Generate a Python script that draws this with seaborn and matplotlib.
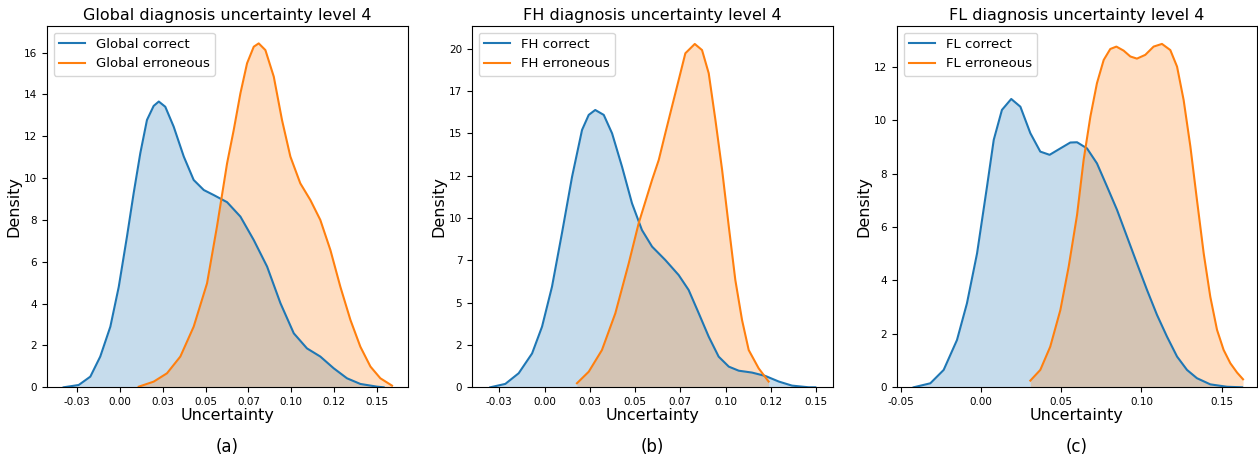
import numpy as np
import pandas as pd
import matplotlib
matplotlib.use("Agg")
import matplotlib.pyplot as plt
from matplotlib.ticker import FormatStrFormatter, MultipleLocator
import seaborn as sns

# Density curves of the uncertainty estimates (level 4), per diagnosis group
global_correct_x = [-0.0330, -0.0242, -0.0174, -0.0116, -0.0057, -0.0008, 0.0040, 0.0079,
                    0.0118, 0.0157, 0.0196, 0.0226, 0.0264, 0.0313, 0.0372, 0.0430,
                    0.0489, 0.0547, 0.0625, 0.0703, 0.0781, 0.0859, 0.0937, 0.1015,
                    0.1092, 0.1170, 0.1248, 0.1326, 0.1404, 0.1502, 0.1540]
global_correct_y = [0.0, 0.11, 0.51, 1.47, 2.9, 4.8, 7.2, 9.27,
                    11.19, 12.78, 13.45, 13.66, 13.41, 12.46, 11.03, 9.91,
                    9.43, 9.19, 8.85, 8.16, 7.04, 5.77, 4.02, 2.58,
                    1.86, 1.47, 0.91, 0.43, 0.16, 0.03, 0.0]
global_err_x = [0.0109, 0.0196, 0.0274, 0.0352, 0.0430, 0.0508, 0.0566, 0.0625,
                0.0664, 0.0703, 0.0742, 0.0781, 0.0810, 0.0849, 0.0898, 0.0946,
                0.0995, 0.1053, 0.1112, 0.1170, 0.1229, 0.1287, 0.1346, 0.1404,
                0.1463, 0.1521, 0.1589]
global_err_y = [0.03, 0.27, 0.67, 1.47, 2.9, 4.97, 7.68, 10.7,
                12.3, 14.05, 15.49, 16.28, 16.44, 16.12, 14.85, 12.78,
                11.03, 9.75, 8.95, 8.0, 6.56, 4.81, 3.22, 1.94,
                0.99, 0.43, 0.08]

fh_correct_x = [-0.0300, -0.0217, -0.0143, -0.0069, -0.0014, 0.0041, 0.0096, 0.0152,
                0.0207, 0.0244, 0.0280, 0.0327, 0.0373, 0.0428, 0.0483, 0.0538,
                0.0594, 0.0667, 0.0741, 0.0796, 0.0852, 0.0907, 0.0962, 0.1018,
                0.1073, 0.1146, 0.1220, 0.1294, 0.1367, 0.1460, 0.1496]
fh_correct_y = [0.0, 0.2, 0.83, 2.0, 3.58, 5.94, 9.1, 12.44,
                15.2, 16.09, 16.38, 16.09, 15.0, 13.03, 10.87, 9.29,
                8.31, 7.52, 6.63, 5.75, 4.37, 2.99, 1.81, 1.22,
                0.98, 0.87, 0.67, 0.34, 0.1, 0.0, 0.0]
fh_err_x = [0.0179, 0.0244, 0.0317, 0.0391, 0.0465, 0.0520, 0.0594, 0.0631,
            0.0667, 0.0704, 0.0741, 0.0778, 0.0830, 0.0870, 0.0907, 0.0944,
            0.0981, 0.1018, 0.1054, 0.1091, 0.1128, 0.1183, 0.1238]
fh_err_y = [0.24, 0.92, 2.2, 4.37, 7.32, 9.69, 12.25, 13.43,
            15.0, 16.58, 18.15, 19.73, 20.28, 19.92, 18.55, 15.79,
            12.84, 9.49, 6.34, 3.98, 2.2, 1.12, 0.34]

fl_correct_x = [-0.0419, -0.0315, -0.0232, -0.0149, -0.0087, -0.0024, 0.0038, 0.0080,
                0.0131, 0.0189, 0.0246, 0.0308, 0.0370, 0.0428, 0.0495, 0.0557,
                0.0599, 0.0661, 0.0723, 0.0786, 0.0848, 0.0910, 0.0972, 0.1035,
                0.1097, 0.1159, 0.1222, 0.1284, 0.1346, 0.1429, 0.1533, 0.1627]
fl_correct_y = [0.0, 0.15, 0.65, 1.77, 3.14, 5.01, 7.51, 9.26,
                10.38, 10.79, 10.5, 9.51, 8.82, 8.7, 8.94, 9.16,
                9.17, 8.94, 8.38, 7.51, 6.64, 5.64, 4.64, 3.64,
                2.71, 1.9, 1.15, 0.65, 0.34, 0.11, 0.02, 0.0]
fl_err_x = [0.0308, 0.0370, 0.0432, 0.0495, 0.0547, 0.0599, 0.0640, 0.0682,
            0.0723, 0.0765, 0.0806, 0.0844, 0.0889, 0.0931, 0.0972, 0.1024,
            0.1076, 0.1128, 0.1180, 0.1222, 0.1263, 0.1305, 0.1346, 0.1388,
            0.1429, 0.1471, 0.1512, 0.1554, 0.1596, 0.1633]
fl_err_y = [0.25, 0.65, 1.52, 2.89, 4.52, 6.45, 8.51, 10.13,
            11.38, 12.25, 12.66, 12.75, 12.6, 12.38, 12.3, 12.44,
            12.75, 12.85, 12.62, 12.0, 10.75, 9.01, 7.01, 5.01,
            3.39, 2.15, 1.4, 0.9, 0.55, 0.3]

groups = ["Global", "FH", "FL"]
panel_tags = ["(a)", "(b)", "(c)"]
curves = {
    "Global": ((global_correct_x, global_correct_y), (global_err_x, global_err_y)),
    "FH": ((fh_correct_x, fh_correct_y), (fh_err_x, fh_err_y)),
    "FL": ((fl_correct_x, fl_correct_y), (fl_err_x, fl_err_y)),
}

BLUE = "#1f77b4"
ORANGE = "#ff7f0e"

fig = plt.figure(figsize=(12.58, 4.63), dpi=100)
axes_rects = [
    [0.0374, 0.1635, 0.2870, 0.7803],
    [0.3752, 0.1635, 0.2870, 0.7803],
    [0.7130, 0.1635, 0.2862, 0.7803],
]
xlims = [(-0.0427, 0.1683), (-0.0401, 0.1594), (-0.0523, 0.1720)]
ylims = [(0, 17.27), (0, 21.34), (0, 13.52)]
x_steps = [0.025, 0.025, 0.05]
y_steps = [2, 2.5, 2]

for i, name in enumerate(groups):
    ax = fig.add_axes(axes_rects[i])
    (cx, cy), (ex, ey) = curves[name]
    for (xs, ys), color, label in [((cx, cy), BLUE, f"{name} correct"),
                                   ((ex, ey), ORANGE, f"{name} erroneous")]:
        df = pd.DataFrame({"Uncertainty": xs, "Density": ys})
        sns.lineplot(data=df, x="Uncertainty", y="Density", color=color,
                     linewidth=1.5, label=label, ax=ax, sort=True,
                     solid_joinstyle="round")
        ax.fill_between(df["Uncertainty"], df["Density"], color=color,
                        alpha=0.25, linewidth=0)
    ax.set_xlim(*xlims[i])
    ax.set_ylim(*ylims[i])
    ax.xaxis.set_major_locator(MultipleLocator(x_steps[i]))
    ax.yaxis.set_major_locator(MultipleLocator(y_steps[i]))
    ax.xaxis.set_major_formatter(FormatStrFormatter("%.2f"))
    ax.yaxis.set_major_formatter(FormatStrFormatter("%d"))
    ax.tick_params(labelsize=7.5)
    ax.set_xlabel("Uncertainty", fontsize=11.5, labelpad=1)
    ax.set_ylabel("Density", fontsize=11.5, labelpad=2)
    ax.set_title(f"{name} diagnosis uncertainty level 4", fontsize=11.5, pad=4)
    ax.legend(loc="upper left", fontsize=9.5)
    for sp in ax.spines.values():
        sp.set_color("black")
    cx_fig = axes_rects[i][0] + axes_rects[i][2] / 2
    fig.text(cx_fig, 0.034, panel_tags[i], ha="center", va="center", fontsize=12)

fig.savefig("out.png", dpi=100)
